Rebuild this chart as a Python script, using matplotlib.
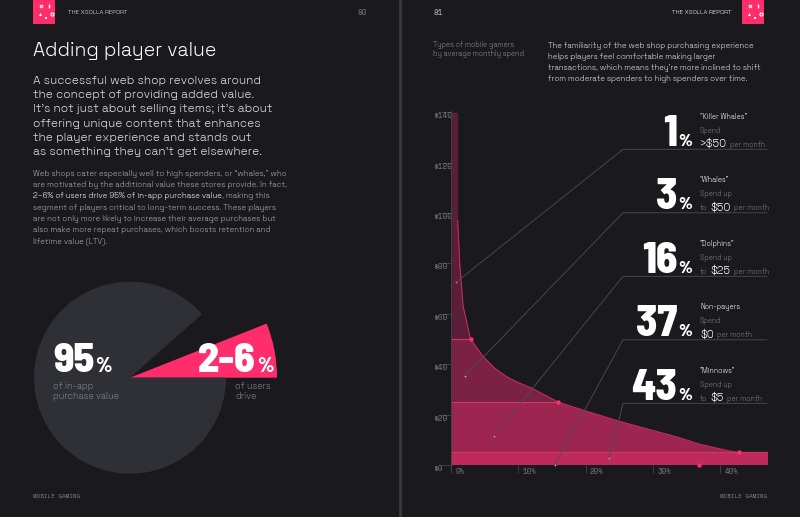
import numpy as np
import matplotlib.pyplot as plt
import matplotlib.transforms as mtransforms
from matplotlib import font_manager as fm

# ---- data ----
# spend curve: share of players (%) vs average monthly spend ($)
share_pct = [0, 1.0, 1.0, 1.3, 1.8, 2.9, 4.8, 6.5, 8.3, 10.0, 12.0, 15.9, 20.2, 25.1, 29.6, 33.5, 37.0, 41.5, 42.8, 47.1]
spend_usd = [140, 140, 97, 80, 63, 50, 43, 38.4, 35, 32.7, 30.5, 25, 21.3, 17.3, 14, 11.2, 8.2, 5.5, 5, 5]
band_edges = [0, 5, 25, 50, 140]
line_ends = [47.1, 47.1, 15.9, 2.9]          # where each band edge line stops
dot_x = [2.9, 15.9, 42.8, 36.9]
dot_y = [50, 25, 5, 0]

y_ticks = [0, 20, 40, 60, 80, 100, 120, 140]
x_ticks = [0, 10, 20, 30, 40]

shares = ["1", "3", "16", "37", "43"]
names = ['"Killer Whales"', '"Whales"', '"Dolphins"', "Non-payers", '"Minnows"']
spend_word = ["Spend", "Spend up", "Spend up", "Spend", "Spend up"]
amount_pre = ["", "to", "to", "", "to"]
amounts = [">$50", "$50", "$25", "$0", "$5"]
anchor_x = [0.74, 2.1, 6.4, 15.4, 23.5]
anchor_y = [72.5, 35.4, 11.5, 0, 2.7]

pie_big = ["95", "2-6"]
pie_sub = ["of in-app\npurchase value", "of users\ndrive"]
wedge_pct = [6.0, 88.5]      # pink slice, grey slice (share of the circle drawn)

sub_lines = [
    "A successful web shop revolves around",
    "the concept of providing added value.",
    "It's not just about selling items; it's about",
    "offering unique content that enhances",
    "the player experience and stands out",
    "as something they can't get elsewhere.",
]
body_lines = [
    "Web shops cater especially well to high spenders, or \u201cwhales,\u201d who",
    "are motivated by the additional value these stores provide. In fact,",
    None,
    "segment of players critical to long-term success. These players",
    "are not only more likely to increase their average purchases but",
    "also make more repeat purchases, which boosts retention and",
    "lifetime value (LTV).",
]
right_par = [
    "The familiarity of the web shop purchasing experience",
    "helps players feel comfortable making larger",
    "transactions, which means they\u2019re more inclined to shift",
    "from moderate spenders to high spenders over time.",
]

# ---- style ----
BG = "#1a191e"
PINK = "#ff2d6b"
GREY_PIE = "#2f2f36"
BANDS = ["#bd2a5b", "#9c2650", "#7b2144", "#5a1e38"]
BAND_LINE = "#d6336a"
DIM = "#7e7e86"

installed = {f.name for f in fm.fontManager.ttflist}


def pick(*opts):
    return next((o for o in opts if o in installed), "DejaVu Sans")


BODY = pick("Space Grotesk", "Liberation Sans")
MONO = pick("Space Mono", "DejaVu Sans Mono")
BIG = pick("Barlow Semi Condensed", "Barlow Condensed", "Liberation Sans")

plt.rcParams["font.family"] = [BODY, "DejaVu Sans"]
fig = plt.figure(figsize=(8, 5.17), dpi=100, facecolor=BG)
W, H = 800, 517


def px_axes(l, t, r, b):
    return fig.add_axes([l / W, 1 - b / H, (r - l) / W, (b - t) / H])


# ---- pie ----
pax = px_axes(130 - 150, 377.7 - 150, 130 + 150, 377.7 + 150)
pax.pie([wedge_pct[0], 100 - wedge_pct[0]], radius=147, startangle=0,
        colors=[PINK, "none"], wedgeprops=dict(linewidth=0))
pax.pie([100 - wedge_pct[1], wedge_pct[1]], radius=96, startangle=0,
        colors=["none", GREY_PIE], wedgeprops=dict(linewidth=0))
pax.set_xlim(-150, 150)
pax.set_ylim(-150, 150)
pax.set_aspect("equal")
pax.axis("off")

# ---- spend chart ----
ax = px_axes(451, 111, 768, 465)
ax.set_facecolor("none")
x = np.array(share_pct)
c = np.array(spend_usd)
for i in range(len(band_edges) - 1):
    lo, hi = band_edges[i], band_edges[i + 1]
    ax.fill_between(x, lo, np.minimum(c, hi), where=c >= lo, interpolate=True,
                    color=BANDS[i], linewidth=0, zorder=1)
for e, xe in zip(band_edges[:-1], line_ends):
    ax.hlines(e, 0, xe, color=BAND_LINE, lw=0.8, zorder=2)
ax.plot(x[2:], c[2:], color="#d42d63", lw=0.7, zorder=2)
ax.scatter(dot_x, dot_y, s=10, color=PINK, zorder=4, clip_on=False, linewidths=0)
ax.set_xlim(0, 47.1)
ax.set_ylim(0, 140.5)
for s in ["top", "right", "bottom"]:
    ax.spines[s].set_visible(False)
ax.spines["left"].set_color("#45454d")
ax.spines["left"].set_linewidth(0.6)
ax.set_yticks(y_ticks, ["$%d" % v for v in y_ticks])
ax.set_xticks(x_ticks, ["%d%%" % v for v in x_ticks])
ax.tick_params(axis="y", direction="out", length=7.2, width=0.6, color="#45454d",
               labelsize=5.6, labelcolor=DIM, pad=5.8)
ax.tick_params(axis="x", direction="out", length=5.8, width=0.6, color="#45454d",
               labelsize=5.4, labelcolor=DIM, pad=-3.4)
for lab in ax.get_yticklabels():
    lab.set_ha("left")
    lab.set_va("top")
    lab.set_family(MONO)
off = mtransforms.ScaledTranslation(3 / 72, 0, fig.dpi_scale_trans)
for lab in ax.get_xticklabels():
    lab.set_ha("left")
    lab.set_family(MONO)
    lab.set_transform(lab.get_transform() + off)

# ---- overlay for page text ----
ov = fig.add_axes([0, 0, 1, 1], zorder=5)
ov.set_xlim(0, W)
ov.set_ylim(H, 0)
ov.axis("off")
ov.patch.set_alpha(0)
rend = fig.canvas.get_renderer()


def fit(s, target, **kw):
    # font size that makes string s about target pixels wide
    t = ov.text(0, 0, s, fontsize=10, **kw)
    w = t.get_window_extent(rend).width
    t.remove()
    return 10 * target / w


def runs(x0, y0, parts, ha="left", va="baseline", gap=0):
    ts = [ov.text(0, y0, s, va=va, **kw) for s, kw in parts]
    ws = [t.get_window_extent(rend).width for t in ts]
    tot = sum(ws) + gap * (len(ts) - 1)
    cur = x0 if ha == "left" else x0 - tot
    for t, w in zip(ts, ws):
        t.set_x(cur)
        cur += w + gap
    return ts


# divider between pages
ov.plot([400, 400], [0, H], color="#3a3942", lw=2)

# logos + headers
for lx in [33, 742]:
    ov.add_patch(plt.Rectangle((lx, 0), 22, 24, color=PINK, lw=0))
    ov.scatter([lx + 8.3], [6], marker="x", s=5, color="white", linewidths=0.8)
    ov.scatter([lx + 16], [6], marker="|", s=6, color="white", linewidths=1.0)
    ov.scatter([lx + 6.8], [14], marker="^", s=5, color="white", linewidths=0)
    ov.scatter([lx + 18.5], [14], marker="o", s=5, facecolor=PINK, edgecolor="white", linewidths=0.8)
    ov.scatter([lx + 12.5], [18.3], marker="s", s=4, color="white", linewidths=0)
hs = fit("THE XSOLLA REPORT", 60, fontweight="bold")
ov.text(68, 12.7, "THE XSOLLA REPORT", color="#e8e8ec", fontsize=hs, va="center", fontweight="bold")
ov.text(358, 12.7, "80", color=DIM, fontsize=5.6, va="center", family=MONO)
ov.text(433, 12.7, "81", color="#c8c8cc", fontsize=5.6, va="center", family=MONO)
ov.text(731, 12.7, "THE XSOLLA REPORT", color="white", fontsize=hs, va="center",
        ha="right", fontweight="bold")
fs = fit("MOBILE GAMING", 48, family=MONO)
ov.text(33, 496.7, "MOBILE GAMING", color=DIM, fontsize=fs, va="center", family=MONO)
ov.text(767, 496.7, "MOBILE GAMING", color=DIM, fontsize=fs, va="center", ha="right", family=MONO)

# left page text
ts = fit("Adding player value", 183)
ov.text(33, 51, "Adding player value", color="white", fontsize=ts, va="center")
ss = fit(sub_lines[2], 242)
for i, s in enumerate(sub_lines):
    ov.text(33, 80.7 + 14.35 * i, s, color="#dcdce0", fontsize=ss, va="center")
bs = fit(body_lines[0], 254)
for i, s in enumerate(body_lines):
    y = 174.3 + 11.1 * i
    if s is None:
        runs(33, y, [("2\u20136% of users drive 95% of in-app purchase value",
                      dict(color="white", fontsize=bs, fontweight="bold")),
                     (", making this", dict(color="#b0b0b8", fontsize=bs))], va="center")
    else:
        ov.text(33, y, s, color="#b0b0b8", fontsize=bs, va="center")

# pie labels
for px0, big in zip([53, 198], pie_big):
    runs(px0, 371.7, [(big, dict(color="white", fontsize=30, fontweight=800, family=BIG)),
                      ("%", dict(color="white", fontsize=15, fontweight=800, family=BIG))],
         gap=1)
ps = fit("purchase value", 66)
ov.text(53, 382, pie_sub[0], color="#85858d", fontsize=ps, va="top", linespacing=1.1)
ov.text(235, 382, pie_sub[1], color="#85858d", fontsize=ps, va="top", linespacing=1.1)

# right page text
tys = fit("by average monthly spend", 91)
ov.text(433, 49.5, "Types of mobile gamers\nby average monthly spend", color="#8e8e96",
        fontsize=tys, va="center", linespacing=1.2)
rs = fit(right_par[2], 214)
for i, s in enumerate(right_par):
    ov.text(548, 46 + 10.9 * i, s, color="#e6e6ea", fontsize=rs, va="center")

# segment rows with leader lines
ns = fit('"Killer Whales"', 47)
sps = fit("Spend up", 32)
pms = fit("per month", 35)
ams = fit(">$50", 27)
for i in range(len(shares)):
    ly = 149.3 + 63.5 * i
    disp = ax.transData.transform((anchor_x[i], anchor_y[i]))
    axp = ov.transData.inverted().transform(disp)
    ov.plot([axp[0], 623, 767], [axp[1], ly, ly], color="#4e4e56", lw=0.6)
    ov.scatter([axp[0]], [axp[1]], s=1.5, color="#c8c8cc", linewidths=0)
    runs(692, ly - 3.5, [(shares[i], dict(color="white", fontsize=31, fontweight=800, family=BIG)),
                         ("%", dict(color="white", fontsize=12.5, fontweight=800, family=BIG))],
         ha="right", gap=1)
    ov.text(700, ly - 32.7, names[i], color="white", fontsize=ns, va="center")
    ov.text(700, ly - 18.5, spend_word[i], color=DIM, fontsize=sps, va="center")
    parts = []
    if amount_pre[i]:
        parts.append((amount_pre[i], dict(color=DIM, fontsize=sps)))
    parts += [(amounts[i], dict(color="white", fontsize=ams)),
              ("per month", dict(color=DIM, fontsize=pms))]
    runs(700, ly - 2.5, parts, gap=3)

fig.savefig("out.png", dpi=100, facecolor=BG)
